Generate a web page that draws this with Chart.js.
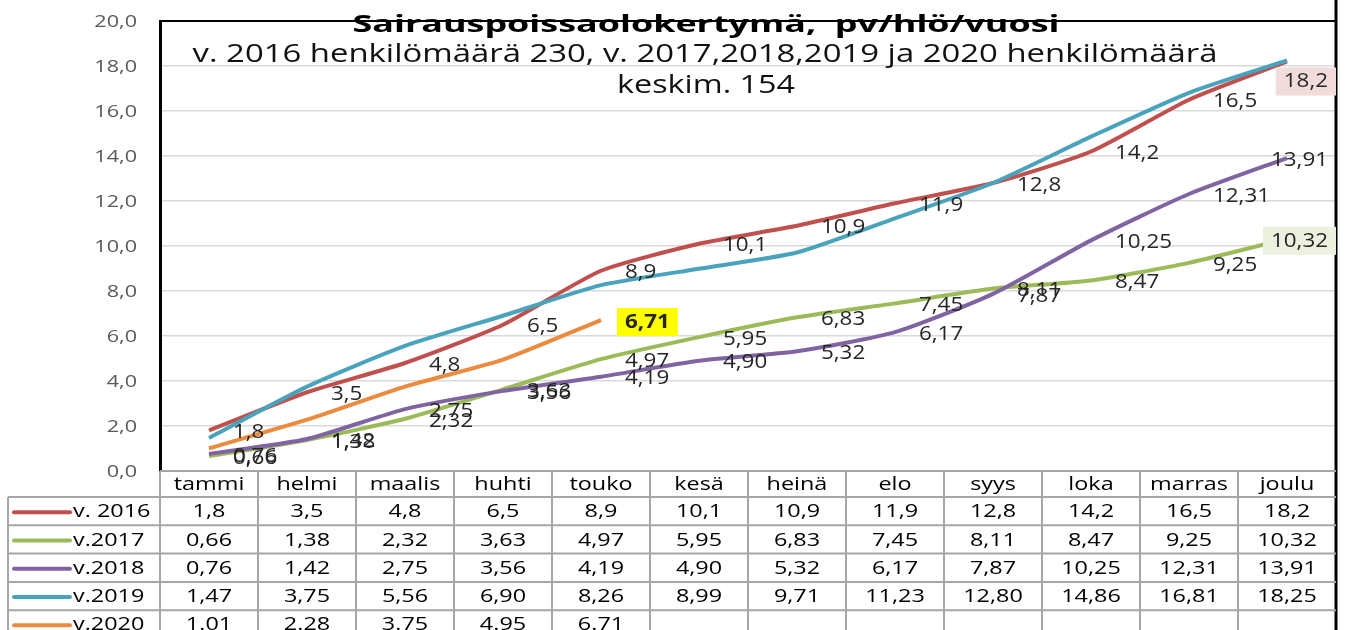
<!DOCTYPE html>
<html lang="fi">
<head>
    <meta charset="UTF-8">
    <title>Sairauspoissaolokertymä</title>
    <style>
        body { margin: 0; background: #fff; }
        canvas { display: block; }
    </style>
    <script src="https://cdn.jsdelivr.net/npm/chart.js"></script>
</head>
<body>
    <canvas id="chart" width="1346" height="630"></canvas>

    <script>
        // Data
        const months = ['tammi', 'helmi', 'maalis', 'huhti', 'touko', 'kesä', 'heinä', 'elo', 'syys', 'loka', 'marras', 'joulu'];
        const seriesNames = ['v. 2016', 'v.2017', 'v.2018', 'v.2019', 'v.2020'];
        const v2016 = [1.8, 3.5, 4.8, 6.5, 8.9, 10.1, 10.9, 11.9, 12.8, 14.2, 16.5, 18.2];
        const v2017 = [0.66, 1.38, 2.32, 3.63, 4.97, 5.95, 6.83, 7.45, 8.11, 8.47, 9.25, 10.32];
        const v2018 = [0.76, 1.42, 2.75, 3.56, 4.19, 4.90, 5.32, 6.17, 7.87, 10.25, 12.31, 13.91];
        const v2019 = [1.47, 3.75, 5.56, 6.90, 8.26, 8.99, 9.71, 11.23, 12.80, 14.86, 16.81, 18.25];
        const v2020 = [1.01, 2.28, 3.75, 4.95, 6.71, null, null, null, null, null, null, null];
        const yTicks = [0, 2, 4, 6, 8, 10, 12, 14, 16, 18, 20];

        const colors = ['#c0504d', '#9bbb59', '#8064a2', '#4aa3bd', '#ec8a3e'];
        const decimals = [1, 2, 2, 2, 2];
        const separators = [',', ',', ',', ',', '.'];

        const FONT = '"Open Sans", sans-serif';

        // teksti venytettynä vaakasuunnassa (kuten alkuperäisessä kuvassa)
        function txt(ctx, s, x, y, o) {
            ctx.save();
            ctx.font = (o.bold ? 'bold ' : '') + o.size + 'px ' + FONT;
            const w = ctx.measureText(s).width;
            const k = o.width ? o.width / w : (o.sx || 1);
            ctx.translate(x, y);
            ctx.scale(k, 1);
            ctx.fillStyle = o.color || '#000';
            ctx.textAlign = o.align || 'left';
            ctx.textBaseline = o.baseline || 'middle';
            ctx.fillText(s, 0, 0);
            ctx.restore();
            return w * k;
        }

        function fmt(v, d, sep) {
            return v.toFixed(d).replace('.', sep);
        }

        // which data labels are shown, and their special look
        const labelRules = [
            { show: 'all', special: { 11: { bg: '#f2dcdb', dy: 18 } } },
            { show: 'all', special: { 11: { bg: '#ebf1de' } } },
            { show: 'all', special: {} },
            { show: 'none', special: {} },
            { show: [4], special: { 4: { bg: '#ffff00', bold: true } } }
        ];

        const overlay = {
            id: 'overlay',
            afterDraw(chart) {
                const ctx = chart.ctx;
                const area = chart.chartArea;
                const xs = chart.scales.x;
                const ys = chart.scales.y;

                // reunat
                ctx.save();
                ctx.strokeStyle = '#000';
                ctx.lineWidth = 2;
                ctx.beginPath();
                ctx.moveTo(area.left, area.top);
                ctx.lineTo(area.right, area.top);
                ctx.stroke();
                ctx.lineWidth = 3;
                ctx.beginPath();
                ctx.moveTo(area.right, 0);
                ctx.lineTo(area.right, chart.height);
                ctx.stroke();
                ctx.restore();

                // y-akselin arvot
                yTicks.forEach(t => {
                    txt(ctx, fmt(t, 1, ','), area.left - 23, ys.getPixelForValue(t) + 1,
                        { size: 16, sx: 1.35, color: '#595959', align: 'right' });
                });

                // otsikot
                const cx = 706;
                txt(ctx, 'Sairauspoissaolokertymä,  pv/hlö/vuosi', cx, 32,
                    { size: 24, bold: true, width: 707, align: 'center', baseline: 'alphabetic' });
                txt(ctx, 'v. 2016 henkilömäärä 230, v. 2017,2018,2019 ja 2020 henkilömäärä', 705, 62,
                    { size: 25, width: 1025, align: 'center', baseline: 'alphabetic', color: '#111' });
                txt(ctx, 'keskim. 154', cx, 93,
                    { size: 25, width: 178, align: 'center', baseline: 'alphabetic', color: '#111' });

                // datapisteiden arvot
                chart.data.datasets.forEach((ds, di) => {
                    const rule = labelRules[di];
                    if (rule.show === 'none') return;
                    const meta = chart.getDatasetMeta(di);
                    meta.data.forEach((pt, i) => {
                        const v = ds.data[i];
                        if (v == null) return;
                        if (rule.show !== 'all' && !rule.show.includes(i)) return;
                        const sp = rule.special[i] || {};
                        const s = fmt(v, decimals[di], ',');
                        const o = { size: 20, sx: 1.12, color: '#262626', bold: !!sp.bold };
                        ctx.save();
                        ctx.font = (o.bold ? 'bold ' : '') + o.size + 'px ' + FONT;
                        const w = ctx.measureText(s).width * o.sx;
                        ctx.restore();
                        let lx = pt.x + 24;
                        if (lx + w > area.right - 8) lx = area.right - 8 - w;
                        const ly = pt.y + 2 + (sp.dy || 0);
                        if (sp.bg) {
                            ctx.fillStyle = sp.bg;
                            ctx.fillRect(lx - 8, ly - 14, w + 16, 28);
                        }
                        txt(ctx, s, lx, ly, o);
                    });
                });

                // taulukko
                const colW = xs.getPixelForValue(1) - xs.getPixelForValue(0);
                const headTop = area.bottom;
                const rowTop = 497;
                const rowH = 28.3;
                const tableLeft = 8;
                const n = seriesNames.length;

                ctx.save();
                ctx.strokeStyle = '#a6a6a6';
                ctx.lineWidth = 2;
                ctx.beginPath();
                // vaakaviivat
                ctx.moveTo(area.left, headTop);
                ctx.lineTo(area.right, headTop);
                for (let r = 0; r <= n; r++) {
                    const y = rowTop + r * rowH;
                    ctx.moveTo(tableLeft, y);
                    ctx.lineTo(area.right, y);
                }
                // pystyviivat
                ctx.moveTo(tableLeft, rowTop);
                ctx.lineTo(tableLeft, chart.height);
                for (let c = 0; c < months.length; c++) {
                    const x = xs.getPixelForValue(c) - colW / 2;
                    ctx.moveTo(x, headTop);
                    ctx.lineTo(x, chart.height);
                }
                ctx.stroke();
                ctx.restore();

                months.forEach((m, c) => {
                    txt(ctx, m, xs.getPixelForValue(c), (headTop + rowTop) / 2 + 1,
                        { size: 18, sx: 1.3, align: 'center' });
                });

                chart.data.datasets.forEach((ds, di) => {
                    const yc = rowTop + di * rowH + rowH / 2 + 1;
                    ctx.save();
                    ctx.strokeStyle = colors[di];
                    ctx.lineWidth = 4;
                    ctx.lineCap = 'round';
                    ctx.beginPath();
                    ctx.moveTo(14, yc);
                    ctx.lineTo(70, yc);
                    ctx.stroke();
                    ctx.restore();
                    txt(ctx, seriesNames[di], 73, yc, { size: 18, sx: 1.3 });
                    ds.data.forEach((v, c) => {
                        if (v == null) return;
                        txt(ctx, fmt(v, decimals[di], separators[di]), xs.getPixelForValue(c), yc,
                            { size: 18, sx: 1.3, align: 'center' });
                    });
                });
            }
        };

        const allSeries = [v2016, v2017, v2018, v2019, v2020];

        new Chart(document.getElementById('chart'), {
            type: 'line',
            data: {
                labels: months,
                datasets: allSeries.map((d, i) => ({
                    label: seriesNames[i],
                    data: d,
                    borderColor: colors[i],
                    backgroundColor: colors[i],
                    borderWidth: 4,
                    pointRadius: 0,
                    tension: 0.2,
                    order: 5 - i
                }))
            },
            options: {
                responsive: false,
                animation: false,
                layout: { padding: { left: 160, top: 21, right: 10, bottom: 159 } },
                plugins: {
                    legend: { display: false },
                    tooltip: { enabled: false }
                },
                scales: {
                    x: { type: 'category', offset: true, display: false },
                    y: {
                        min: 0,
                        max: 20,
                        ticks: { stepSize: 2, display: false },
                        grid: { color: '#d9d9d9', lineWidth: 1.5, drawTicks: false },
                        border: { color: '#000', width: 3 }
                    }
                }
            },
            plugins: [overlay]
        });
    </script>
</body>
</html>
